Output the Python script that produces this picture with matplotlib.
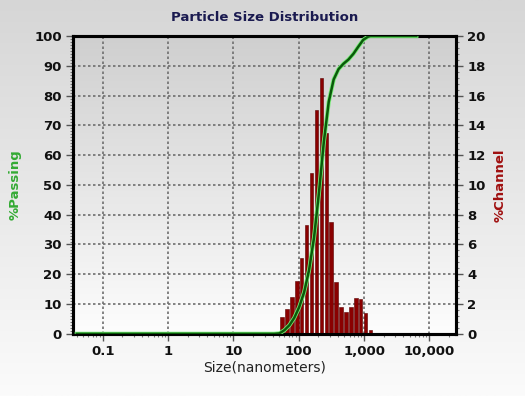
import numpy as np
import matplotlib
matplotlib.use("Agg")
import matplotlib.pyplot as plt
from matplotlib.colors import LinearSegmentedColormap
from matplotlib.ticker import FixedLocator, MultipleLocator, LogLocator, NullFormatter

# === Data ===
# channel centre sizes (nm) and % in channel
chan_size = [46.6, 55.4, 65.9, 78.4, 93.2, 110.8, 131.8, 156.8, 186.4, 221.7,
             263.6, 313.5, 372.8, 443.4, 527.3, 627.0, 745.7, 886.8, 1054.6, 1254.0]
chan_pct = [0.15, 1.1, 1.66, 2.46, 3.58, 5.1, 7.3, 10.8, 15.0, 17.2,
            13.5, 7.5, 3.5, 1.83, 1.45, 1.83, 2.4, 2.35, 1.39, 0.27]

# cumulative % passing curve
pass_size = [0.04, 42.0, 50.8, 60.4, 71.9, 85.5, 101.6, 120.9, 143.7, 171.0, 203.3,
             241.8, 287.5, 341.9, 406.5, 483.5, 575.0, 683.8, 813.2, 967.0,
             1150.0, 1250.0, 6300.0]
pass_pct = [0, 0, 0.15, 1.25, 2.9, 5.4, 9.0, 14.0, 21.4, 32.2, 47.2,
            64.4, 77.9, 85.4, 88.9, 90.7, 92.1, 94.0, 96.4, 98.7,
            99.8, 100, 100]

xticks = [0.1, 1, 10, 100, 1000, 10000]
xticklabels = ['0.1', '1', '10', '100', '1,000', '10,000']

# === Figure ===
fig = plt.figure(figsize=(5.25, 3.96), dpi=100)

# figure background gradient (grey top -> white bottom)
grad = np.linspace(0, 1, 256).reshape(-1, 1)
bg = fig.add_axes([0, 0, 1, 1], zorder=-10)
bg.imshow(grad, aspect='auto', origin='upper', extent=[0, 1, 0, 1],
          cmap=LinearSegmentedColormap.from_list('bgf', ['#d6d6d6', '#fbfbfb']))
bg.set_axis_off()

ax = fig.add_axes([0.139, 0.157, 0.730, 0.752])
ax.set_xscale('log')
xlim = (0.035, 25700)

# plot area gradient
ax.imshow(grad, aspect='auto', origin='upper', extent=[xlim[0], xlim[1], 0, 100],
          cmap=LinearSegmentedColormap.from_list('bga', ['#cfcfcf', '#fdfdfd']),
          zorder=0)
ax.set_xlim(*xlim)
ax.set_ylim(0, 100)

ax.grid(True, which='major', color='#6e6e6e', linestyle=(0, (1.5, 1.5)),
        linewidth=1.2, zorder=1)

ax2 = ax.twinx()
ax2.set_ylim(0, 20)
lo = np.array(chan_size) / 2 ** 0.09
hi = np.array(chan_size) * 2 ** 0.09
ax2.bar(lo, chan_pct, width=hi - lo, align='edge', color='#8a0000',
        edgecolor='#5a0000', linewidth=0.4, zorder=2)

ax2.plot(pass_size, np.array(pass_pct) / 5, color='#77ee77', linewidth=3.0, zorder=3)
ax2.plot(pass_size, np.array(pass_pct) / 5, color='#0a5a0a', linewidth=1.8, zorder=4)

ax.set_zorder(1)
ax2.set_zorder(2)
ax.patch.set_visible(False)
ax2.patch.set_visible(False)

# ticks
ax.xaxis.set_major_locator(FixedLocator(xticks))
ax.set_xticklabels(xticklabels)
ax.xaxis.set_minor_locator(LogLocator(base=10, subs=np.arange(2, 10)))
ax.xaxis.set_minor_formatter(NullFormatter())
ax.yaxis.set_major_locator(MultipleLocator(10))
ax.yaxis.set_minor_locator(MultipleLocator(1))
ax2.yaxis.set_major_locator(MultipleLocator(2))
ax2.yaxis.set_minor_locator(MultipleLocator(0.4))

for lab in ax.get_xticklabels() + ax.get_yticklabels() + ax2.get_yticklabels():
    lab.set_fontsize(9.5)
    lab.set_fontweight('bold')
    lab.set_color('#111111')

for a in (ax, ax2):
    a.tick_params(which='major', length=5, width=1, color='#555555', pad=3)
    a.tick_params(which='minor', length=2.5, width=0.8, color='#777777')
    for s in a.spines.values():
        s.set_linewidth(2.2)
        s.set_color('black')

ax.set_title('Particle Size Distribution', fontsize=9.5, fontweight='bold',
             color='#1a1a50', pad=11)
ax.set_xlabel('Size(nanometers)', fontsize=10, color='#222222', labelpad=2)
ax.set_ylabel('%Passing', fontsize=9.5, fontweight='bold', color='#33aa33', labelpad=9)
ax2.set_ylabel('%Channel', fontsize=9.5, fontweight='bold', color='#a01010', labelpad=6)

fig.savefig('out.png', dpi=100)
